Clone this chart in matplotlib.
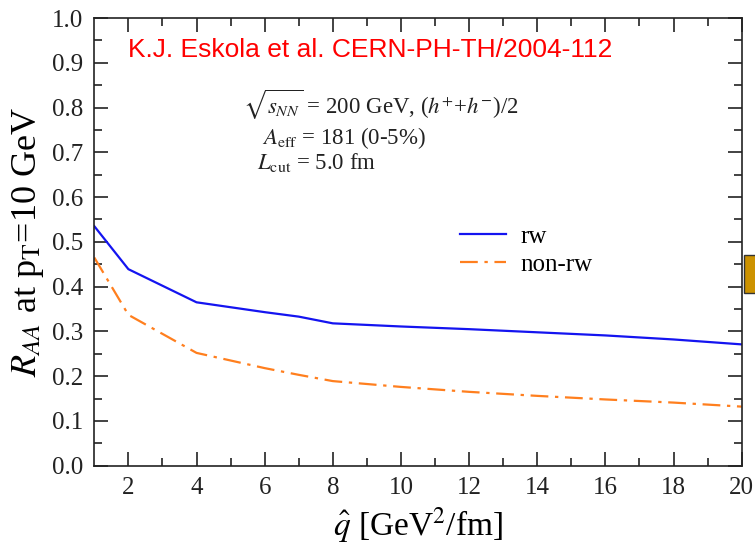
import numpy as np
import matplotlib
matplotlib.use("Agg")
import matplotlib.pyplot as plt
from matplotlib.patches import Rectangle

plt.rcParams['font.family'] = ['Liberation Serif', 'DejaVu Serif']
plt.rcParams['mathtext.fontset'] = 'stix'

# q-hat values [GeV^2/fm] and R_AA
qhat = [1, 2, 4, 6, 7, 8, 10, 12, 14, 16, 18, 20]
raa_rw = [0.535, 0.439, 0.365, 0.343, 0.333, 0.318, 0.311, 0.305, 0.298, 0.291, 0.282, 0.271]
raa_nonrw = [0.465, 0.337, 0.252, 0.218, 0.203, 0.189, 0.176, 0.165, 0.156, 0.148, 0.141, 0.132]

fig = plt.figure(figsize=(7.55, 5.44), dpi=100)
ax = fig.add_axes([0.1249, 0.1439, 0.8575, 0.823])

ax.plot(qhat, raa_rw, color='#1414f0', lw=1.6, label='rw')
ax.plot(qhat, raa_nonrw, color='#ff7f1e', lw=1.6, ls=(0, (8, 3, 1.5, 3)), label='non-rw')

ax.set_xlim(1, 20)
ax.set_ylim(0, 1.0)
ax.set_xticks(np.arange(2, 21, 2))
ax.set_xticks(np.arange(3, 20, 2), minor=True)
ax.set_yticks(np.arange(0, 1.01, 0.1))
ax.set_yticks(np.arange(0.05, 1.0, 0.1), minor=True)
ax.set_yticklabels(['%.1f' % v for v in np.arange(0, 1.01, 0.1)])
ax.tick_params(which='both', direction='in', top=True, right=True, labelsize=18, colors='#222222')
ax.tick_params(which='major', length=10, width=1.2, pad=8)
ax.tick_params(which='minor', length=6, width=1.2)
for s in ax.spines.values():
    s.set_linewidth(1.2)
    s.set_color('#222222')

ax.set_xlabel(r'$\hat{q}$ [GeV$^2$/fm]', fontsize=24, labelpad=5)
ax.set_ylabel(r'$R_{AA}$ at p$_\mathrm{T}$=10 GeV', fontsize=26, labelpad=4)

ax.text(0.052, 0.9285, 'K.J. Eskola et al. CERN-PH-TH/2004-112', transform=ax.transAxes,
        family='Liberation Sans', fontsize=19, color='red', va='center')

ax.text(0.230, 0.806, r'$\sqrt{s_{NN}}$ = 200 GeV, ($h^{+}$+$h^{-}$)/2', transform=ax.transAxes,
        fontsize=16.5, color='#222222', va='center')
ax.text(0.259, 0.733, r'$A_\mathrm{eff}$ = 181 (0-5%)', transform=ax.transAxes,
        fontsize=16.5, color='#222222', va='center')
ax.text(0.251, 0.678, r'$L_\mathrm{cut}$ = 5.0 fm', transform=ax.transAxes,
        fontsize=16.5, color='#222222', va='center')

ax.legend(loc='upper left', bbox_to_anchor=(0.565, 0.536), frameon=False, fontsize=18,
          handlelength=1.84, labelspacing=0.2, handletextpad=0.56,
          borderpad=0, borderaxespad=0)

# partial box cut off at the right edge
fig.patches.append(Rectangle((744 / 755, 1 - 293 / 544), 20 / 755, 38 / 544,
                             transform=fig.transFigure, facecolor='#cc9200',
                             edgecolor='#333333', lw=1.0))

fig.savefig('out.png', dpi=100)
